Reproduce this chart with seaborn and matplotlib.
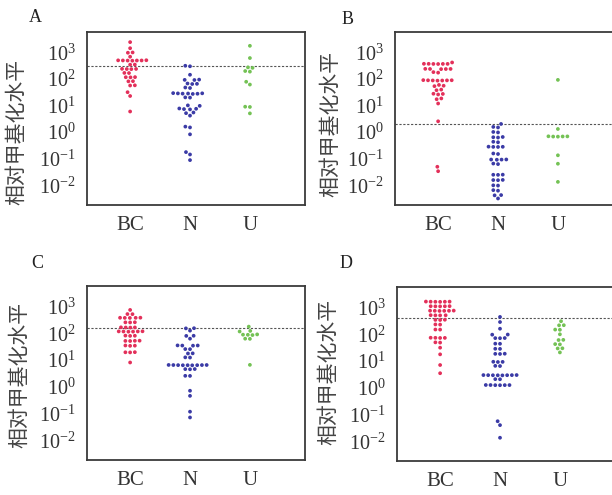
import matplotlib
matplotlib.use("Agg")
import matplotlib.pyplot as plt
import pandas as pd
import seaborn as sns
from matplotlib.ticker import LogFormatterMathtext, NullLocator

# ---------------- data ----------------
categories = ["BC", "N", "U"]
panel_labels = ["A", "B", "C", "D"]
ylabel_text = "相对甲基化水平"
ytick_values = [1e-2, 1e-1, 1e0, 1e1, 1e2, 1e3]

a_bc = [2450, 1445, 1000, 977, 692, 500, 505, 495, 510, 490, 500, 498, 347, 350,
        240, 238, 242, 236, 170, 168, 117, 118, 116, 83, 82, 57, 58, 32, 23, 6.0]
a_n = [316, 302, 145, 95, 92, 93, 68, 65, 66, 48, 46, 29.5, 28.8, 28.2, 27.5, 29,
       28.5, 28, 20.4, 20.0, 10.2, 9.8, 7.6, 7.4, 7.8, 7.2, 5.5, 5.2, 4.2, 1.62,
       1.51, 0.83, 0.178, 0.145, 0.089]
a_u = [1780, 617, 275, 263, 200, 190, 79, 62, 9.1, 8.9, 5.1]

b_bc = [420, 372, 370, 375, 368, 374, 371, 240, 238, 242, 239, 236, 182, 174,
        89, 88, 90, 87, 91, 89.5, 88.5, 60, 56, 54, 40, 38, 28, 27.5, 26.3,
        18.6, 17.4, 12, 2.57, 0.050, 0.034]
b_n = [2.04, 1.58, 1.51, 1.02, 0.98, 0.66, 0.645, 0.63, 0.436, 0.417, 0.282,
       0.28, 0.285, 0.278, 0.158, 0.151, 0.093, 0.094, 0.092, 0.0935, 0.066,
       0.063, 0.025, 0.0252, 0.0248, 0.0158, 0.016, 0.0156, 0.010, 0.0098,
       0.0066, 0.0063, 0.0043, 0.0042, 0.0032]
b_u = [93, 1.32, 0.69, 0.70, 0.68, 0.695, 0.685, 0.135, 0.065, 0.0135]

c_bc = [750, 525, 520, 380, 378, 382, 376, 384, 257, 255, 259, 166, 165, 167,
        164, 117, 116, 118, 115, 119, 117.5, 81, 80, 82, 52.5, 52, 53, 51.5, 35,
        34.5, 34, 19.5, 19.3, 19.7, 8.1]
c_n = [155, 153, 126, 81, 80, 63, 35, 34.5, 34.8, 35.3, 25.7, 25.5, 17.8, 17.6,
       12.6, 12.4, 6.45, 6.5, 6.4, 6.55, 6.35, 6.48, 6.42, 6.52, 6.38, 4.57, 4.6,
       4.5, 2.57, 2.55, 0.71, 0.457, 0.117, 0.071]
c_u = [178, 123, 117, 89, 86, 91, 88, 63, 62, 6.6]

d_bc = [1660, 1650, 1670, 1640, 1680, 1655, 1120, 1110, 1130, 1115, 1125, 760,
        755, 765, 750, 770, 758, 515, 510, 520, 512, 347, 343, 351, 234, 231,
        151, 150, 74, 73.5, 74.5, 73, 50, 49, 31.6, 17.8, 7.1, 3.5]
d_n = [447, 288, 162, 98, 97, 72, 71.5, 72.5, 44.7, 44.3, 28.8, 28.5, 18.6, 18.4,
       18.8, 9.3, 9.2, 9.4, 6.6, 6.5, 2.95, 2.97, 2.93, 2.99, 2.91, 2.96, 2.94,
       2.98, 2.1, 2.08, 1.26, 1.25, 1.27, 1.255, 1.265, 1.245, 0.056, 0.040,
       0.0135]
d_u = [309, 219, 217, 150, 148, 100, 62, 61, 43, 42, 30, 29.6, 21]

thresholds = [300, 2.0, 155, 410]

panels = [(a_bc, a_n, a_u), (b_bc, b_n, b_u), (c_bc, c_n, c_u), (d_bc, d_n, d_u)]

# ---------------- style ----------------
colors = {"BC": "#e3305a", "N": "#3b3ba6", "U": "#74c255"}
spine_color = "#3a3a3a"

sns.set_style("white")
plt.rcParams["mathtext.fontset"] = "stix"
plt.rcParams["font.family"] = ["Liberation Serif", "DejaVu Sans"]

fig = plt.figure(figsize=(6.12, 4.95), dpi=100)

W, H = 612.0, 495.0
# axes boxes in pixels: left, top, right, bottom
boxes = [(87, 32, 305, 205), (395, 32, 613, 205),
         (87, 286, 305, 460), (397, 287, 615, 461)]
label_pos = [(35, 17), (348, 20), (37, 263), (346, 263)]
ylabel_coords = [(-0.275, 0.42), (-0.248, 0.47), (-0.262, 0.49), (-0.266, 0.51)]

for i, (vals, thr) in enumerate(zip(panels, thresholds)):
    l, t, r, b = boxes[i]
    ax = fig.add_axes([l / W, 1 - b / H, (r - l) / W, (b - t) / H])
    groups, values = [], []
    for cat, arr in zip(categories, vals):
        groups += [cat] * len(arr)
        values += list(arr)
    df = pd.DataFrame({"group": groups, "value": values})
    ax.set_yscale("log")
    ax.set_ylim(10 ** -2.74, 10 ** 3.77)
    ax.set_xlim(-0.72, 2.92)
    sns.swarmplot(data=df, x="group", y="value", hue="group", order=categories,
                  hue_order=categories, palette=colors, size=2.7, linewidth=0.55,
                  legend=False, ax=ax)
    for coll in ax.collections:
        coll.set_edgecolor("none")
    ax.set_yscale("log")
    ax.set_ylim(10 ** -2.74, 10 ** 3.77)
    ax.set_xlim(-0.72, 2.92)
    ax.axhline(thr, color="#555555", lw=0.8, ls=(0, (2, 1.5)), zorder=0.5)

    ax.set_yticks(ytick_values)
    ax.yaxis.set_major_formatter(LogFormatterMathtext())
    ax.yaxis.set_minor_locator(NullLocator())
    ax.set_xticks(range(len(categories)))
    ax.set_xticklabels(categories, fontsize=15, family="Liberation Serif")
    ax.tick_params(axis="both", direction="out", length=5, width=1.2,
                   color=spine_color, labelcolor="#333333")
    ax.tick_params(axis="y", labelsize=14.5, pad=3)
    ax.tick_params(axis="x", pad=3)
    ax.set_xlabel("")
    ax.set_ylabel(ylabel_text, fontsize=15, color="#444444",
                  family=["Noto Sans CJK SC", "DejaVu Sans"])
    ax.yaxis.set_label_coords(*ylabel_coords[i])
    for s in ax.spines.values():
        s.set_visible(True)
        s.set_color(spine_color)
        s.set_linewidth(1.3)

    px, py = label_pos[i]
    fig.text(px / W, 1 - py / H, panel_labels[i], ha="center", va="center",
             fontsize=13, family="Liberation Serif", color="#222222")

fig.savefig("out.png", dpi=100)
